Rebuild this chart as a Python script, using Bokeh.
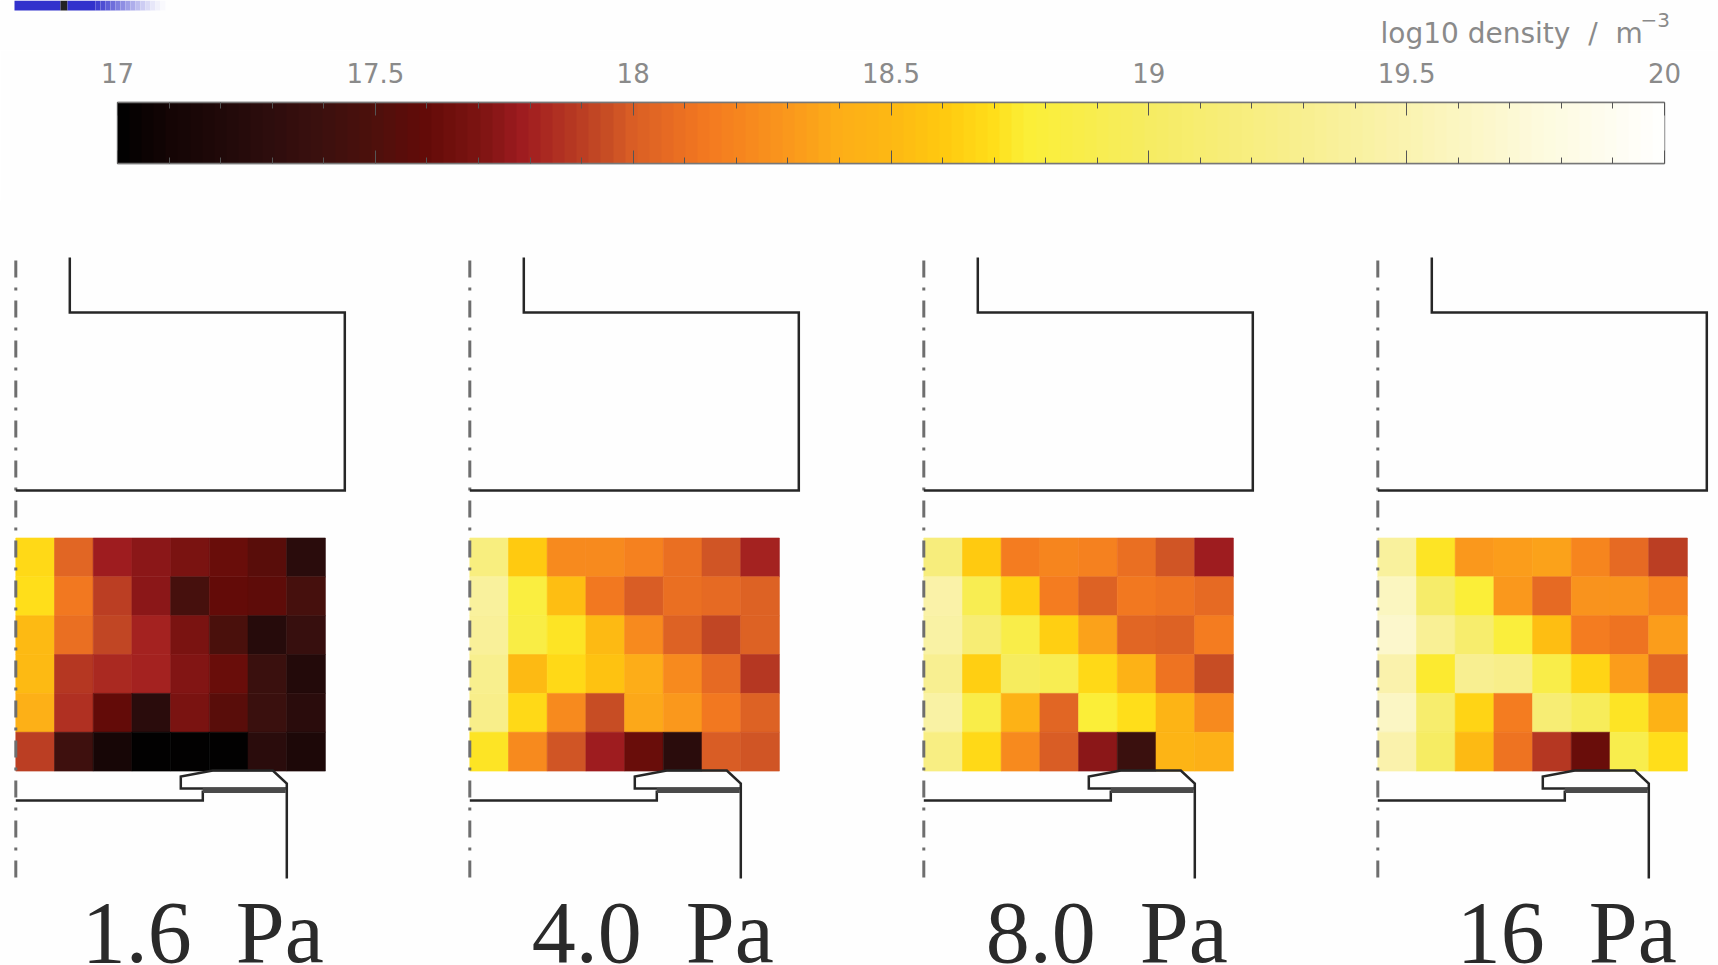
import numpy as np
from bokeh.embed import file_html
from bokeh.resources import INLINE
from bokeh.core.properties import value
from bokeh.layouts import column, row
from bokeh.models import (ColumnDataSource, FixedTicker, LinearAxis, LinearColorMapper, Range1d)
from bokeh.plotting import figure

# ---- data: log10 density in each cell, rows top to bottom, columns left to right
pressures = ["1.6\u00a0\u00a0Pa", "4.0\u00a0\u00a0Pa", "8.0\u00a0\u00a0Pa", "16\u00a0\u00a0Pa"]

density_16 = [
    [18.68, 18.05, 17.78, 17.74, 17.70, 17.63, 17.55, 17.28],
    [18.70, 18.13, 17.90, 17.73, 17.46, 17.60, 17.57, 17.46],
    [18.50, 18.10, 17.92, 17.80, 17.70, 17.47, 17.25, 17.37],
    [18.50, 17.88, 17.84, 17.80, 17.72, 17.61, 17.38, 17.22],
    [18.42, 17.85, 17.60, 17.26, 17.68, 17.55, 17.38, 17.27],
    [17.90, 17.40, 17.12, 17.00, 17.00, 17.00, 17.28, 17.17],
]
density_40 = [
    [19.20, 18.60, 18.22, 18.22, 18.18, 18.10, 17.97, 17.81],
    [19.38, 18.82, 18.53, 18.14, 18.00, 18.10, 18.07, 18.01],
    [19.35, 18.85, 18.72, 18.50, 18.24, 18.02, 17.93, 18.03],
    [19.28, 18.52, 18.67, 18.57, 18.40, 18.24, 18.06, 17.87],
    [19.25, 18.67, 18.23, 17.95, 18.37, 18.30, 18.14, 18.03],
    [18.73, 18.22, 17.98, 17.79, 17.63, 17.27, 17.99, 17.97],
]
density_80 = [
    [19.17, 18.60, 18.16, 18.20, 18.18, 18.10, 17.97, 17.78],
    [19.45, 18.92, 18.62, 18.15, 18.01, 18.13, 18.12, 18.07],
    [19.43, 19.12, 18.87, 18.64, 18.34, 18.05, 18.03, 18.15],
    [19.32, 18.63, 18.97, 18.90, 18.68, 18.44, 18.12, 17.96],
    [19.43, 18.87, 18.44, 18.04, 18.77, 18.70, 18.46, 18.22],
    [19.22, 18.68, 18.23, 17.99, 17.74, 17.39, 18.46, 18.41],
]
density_160 = [
    [19.38, 18.72, 18.30, 18.32, 18.34, 18.20, 18.07, 17.90],
    [19.60, 19.05, 18.76, 18.30, 18.06, 18.27, 18.27, 18.19],
    [19.65, 19.33, 19.07, 18.80, 18.53, 18.17, 18.11, 18.33],
    [19.48, 18.75, 19.32, 19.25, 18.87, 18.66, 18.32, 18.05],
    [19.62, 19.07, 18.65, 18.17, 19.13, 18.95, 18.72, 18.45],
    [19.48, 19.00, 18.52, 18.11, 17.89, 17.62, 18.88, 18.71],
]
panels = [density_16, density_40, density_80, density_160]

# colour scale
scale_values = [17.0, 17.1, 17.2, 17.3, 17.4, 17.5, 17.6, 17.7, 17.79, 17.94, 18.0, 18.15,
                18.3, 18.4, 18.5, 18.6, 18.7, 18.76, 19.0, 19.25, 19.5, 19.75, 20.0]
scale_colors = ["#000000", "#140505", "#200909", "#2e0d0d", "#3c100e", "#4e100c", "#640b08",
                "#7c1412", "#a01c20", "#c44a24", "#da5e25", "#f47a20", "#fa981c", "#fdae18",
                "#fdb813", "#ffc90f", "#ffde1a", "#fbee36", "#f6ec62", "#f8ee88", "#faf3b0",
                "#fdfadc", "#ffffff"]
major_ticks = [17, 17.5, 18, 18.5, 19, 19.5, 20]
minor_ticks = [17.1, 17.2, 17.3, 17.4, 17.6, 17.7, 17.8, 17.9, 18.1, 18.2, 18.3, 18.4,
               18.6, 18.7, 18.8, 18.9, 19.1, 19.2, 19.3, 19.4, 19.6, 19.7, 19.8, 19.9]
colorbar_title = "log10 density\u00a0\u00a0/\u00a0\u00a0m"
colorbar_power = "\u22123"

# chamber walls, in panel units (x from the axis of symmetry, y down the page)
upper_x = [54, 54, 329, 329, 0]
upper_y = [257, 312, 312, 490, 490]
nozzle_x = [270, 165, 165, 197, 257, 271, 271]
nozzle_y = [788, 788, 776, 770, 770, 783, 878]
base_x = [0, 187, 187]
base_y = [800, 800, 790]
bar_x = [187, 270]
bar_y = [790, 790]
axis_x = [0, 0]
axis_y = [260, 878]

# the strip at the top edge of the slide
strip_edges = [14, 60, 67, 95, 100, 105, 110, 115, 120, 125, 130, 135, 140, 145, 150, 155, 160, 165]
strip_colors = ["#3232cc", "#222222", "#3232cc", "#4040cf", "#4e4ed3", "#5e5ed7", "#6e6edb",
                "#7e7edf", "#8e8ee3", "#9e9ee7", "#aeaeeb", "#bebeef", "#cdcdf3", "#dbdbf6",
                "#e7e7f9", "#f1f1fb", "#f9f9fd"]

BG = "#fefefe"
CELL_W, CELL_H = 38.7, 38.85
GRID_TOP = 537.5
label_left = [66, 62, 62, 79]


def hexrgb(c):
    return [int(c[i:i + 2], 16) for i in (1, 3, 5)]


N_BANDS = 128
rgb = np.array([hexrgb(c) for c in scale_colors], dtype=float)
band_centres = 17 + (np.arange(N_BANDS) + 0.5) * 3 / N_BANDS
palette = ["#%02x%02x%02x" % tuple(int(round(np.interp(v, scale_values, rgb[:, k]))) for k in range(3))
           for v in band_centres]
mapper = LinearColorMapper(palette=palette, low=17, high=20)


def plain(p):
    p.xgrid.visible = False
    p.ygrid.visible = False
    p.outline_line_color = None
    p.background_fill_color = BG
    p.border_fill_color = BG
    return p


# ---- top band: strip and colour-bar title
top = plain(figure(width=1718, height=50, x_range=Range1d(0, 1718), y_range=Range1d(50, 0),
                   x_axis_type=None, y_axis_type=None, toolbar_location=None,
                   output_backend="svg", min_border=0))
top.quad(left=strip_edges[:-1], right=strip_edges[1:], bottom=10, top=0,
         fill_color=strip_colors, line_color=None)
top.text([1380], [33], text=[colorbar_title], text_font=value("DejaVu Sans"),
         text_font_size=value("28px"), text_color="#8a8a8a", text_baseline="alphabetic")
top.text([1640], [19], text=[colorbar_power], text_font=value("DejaVu Sans"),
         text_font_size=value("20px"), text_color="#8a8a8a", text_baseline="alphabetic")

# ---- colour bar
bar = figure(width=1718, height=150, x_range=Range1d(17, 20), y_range=Range1d(0, 1),
             x_axis_type=None, y_axis_type=None, toolbar_location=None, output_backend="svg",
             min_border_left=117, min_border_right=54, min_border_top=52, min_border_bottom=37)
plain(bar)
bar.outline_line_color = "#8a8a8a"
bar.outline_line_width = 1.5
bar.image(image=[np.array([band_centres])], x=17, y=0, dw=3, dh=1, color_mapper=mapper)
ticker = FixedTicker(ticks=major_ticks, minor_ticks=minor_ticks)
for place in ("above", "below"):
    ax = LinearAxis(ticker=ticker)
    ax.axis_line_color = "#777777"
    ax.axis_line_width = 1.5
    ax.major_tick_line_color = "#555555"
    ax.minor_tick_line_color = "#555555"
    ax.major_tick_in, ax.major_tick_out = 13, 0
    ax.minor_tick_in, ax.minor_tick_out = 6, 0
    if place == "above":
        ax.major_label_text_font = "DejaVu Sans"
        ax.major_label_text_font_size = "26px"
        ax.major_label_text_color = "#8a8a8a"
        ax.major_label_standoff = 20
    else:
        ax.major_label_overrides = {t: "" for t in major_ticks}
        ax.major_label_text_font_size = "1px"
        ax.major_label_standoff = 0
    bar.add_layout(ax, place)

# ---- the four panels
figs = []
for i, (grid, name) in enumerate(zip(panels, pressures)):
    w = 454 if i < 3 else 356
    f = plain(figure(width=w, height=765, x_range=Range1d(-15.3, w - 15.3),
                     y_range=Range1d(965, 200), x_axis_type=None, y_axis_type=None,
                     toolbar_location=None, output_backend="svg", min_border=0))
    xs, ys, vals = [], [], []
    for r, line in enumerate(grid):
        for c, v in enumerate(line):
            xs.append((c + 0.5) * CELL_W)
            ys.append(GRID_TOP + (r + 0.5) * CELL_H)
            vals.append(v)
    src = ColumnDataSource(dict(x=xs, y=ys, v=vals))
    f.rect("x", "y", width=CELL_W, height=CELL_H, source=src, line_width=0.6,
           line_color={"field": "v", "transform": mapper},
           fill_color={"field": "v", "transform": mapper})
    f.line(axis_x, axis_y, line_color="#6e6e6e", line_width=3, line_dash="17 10 3 10")
    for lx, ly in [(upper_x, upper_y), (nozzle_x, nozzle_y), (base_x, base_y)]:
        f.line(lx, ly, line_color="#262626", line_width=2.5, line_join="miter")
    f.line(bar_x, bar_y, line_color="#4a4a4a", line_width=5)
    f.text([label_left[i]], [931.5], text=[name], text_font=value("Liberation Serif"),
           text_font_size=value("88px"), text_color="#2a2a2a", text_baseline="alphabetic")
    figs.append(f)

page = column(row(top, spacing=0), bar, row(*figs, spacing=0), spacing=0, margin=0)
open("out.html", "w").write(file_html(page, INLINE))
